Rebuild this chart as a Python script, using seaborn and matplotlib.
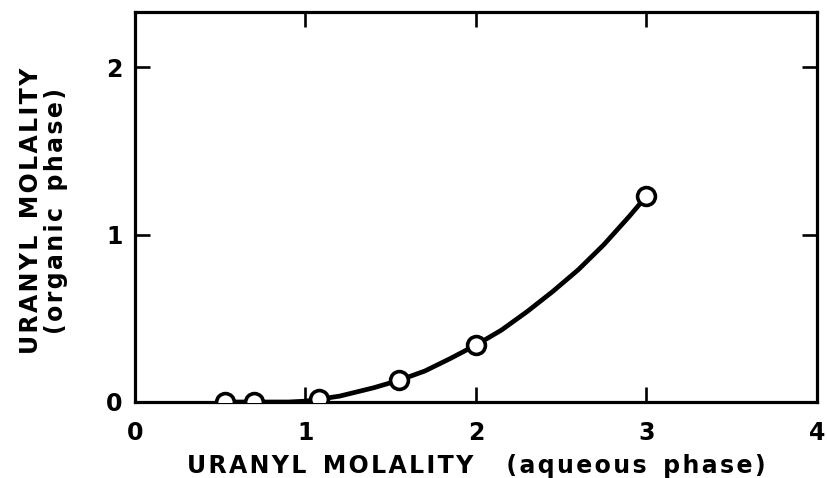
import matplotlib
matplotlib.use("Agg")
import matplotlib.pyplot as plt
import pandas as pd
import seaborn as sns

# measured points (aqueous vs organic uranyl molality)
aq_points = [0.53, 0.70, 1.08, 1.55, 2.00, 3.00]
org_points = [0.00, 0.00, 0.02, 0.13, 0.34, 1.23]

# smooth curve
aq_curve = [0.53, 0.70, 0.90, 1.00, 1.10, 1.20, 1.30, 1.40, 1.55, 1.70, 1.85, 2.00,
            2.15, 2.30, 2.45, 2.60, 2.75, 2.90, 3.00]
org_curve = [0.00, 0.00, 0.00, 0.005, 0.02, 0.035, 0.06, 0.085, 0.13, 0.185, 0.26, 0.34,
             0.43, 0.54, 0.66, 0.79, 0.94, 1.11, 1.23]

x_ticks = [0, 1, 2, 3, 4]
y_ticks = [0, 1, 2]


def spaced(text, gap="\u200a"):
    # old typewriter-like lettering: a hair space between letters
    return "  ".join(gap.join(word) for word in text.split(" "))


pts = pd.DataFrame({"aq": aq_points, "org": org_points})
curve = pd.DataFrame({"aq": aq_curve, "org": org_curve})

sns.set_theme(style="ticks")
plt.rcParams["font.family"] = ["DejaVu Sans"]
plt.rcParams["font.weight"] = "bold"
plt.rcParams["text.color"] = "black"
plt.rcParams["axes.labelcolor"] = "black"
plt.rcParams["xtick.color"] = "black"
plt.rcParams["ytick.color"] = "black"

fig = plt.figure(figsize=(8.27, 4.78), dpi=100)
ax = fig.add_axes([0.1632, 0.159, 0.8247, 0.816])

sns.lineplot(data=curve, x="aq", y="org", ax=ax, color="black", linewidth=3.4, zorder=2)
sns.scatterplot(data=pts, x="aq", y="org", ax=ax, s=165, facecolor="white",
                edgecolor="black", linewidth=2.6, zorder=3)

ax.set_xlim(0, 4)
ax.set_ylim(0, 2.33)
ax.set_xticks(x_ticks)
ax.set_yticks(y_ticks)
ax.set_xticklabels([str(t) for t in x_ticks], fontsize=17, fontweight="bold")
ax.set_yticklabels([str(t) for t in y_ticks], fontsize=17, fontweight="bold")
ax.tick_params(direction="in", length=11, width=1.9, top=True, right=True)
ax.tick_params(axis="x", pad=14)
ax.tick_params(axis="y", pad=9)

for s in ax.spines.values():
    s.set_linewidth(2.3)
    s.set_color("black")

ax.set_xlabel(spaced("URANYL MOLALITY  (aqueous phase)"), fontsize=17, fontweight="bold",
              labelpad=6)
ax.set_ylabel(spaced("URANYL MOLALITY") + "\n" + spaced("(organic phase)"), fontsize=17,
              fontweight="bold", linespacing=1.05)
ax.yaxis.set_label_coords(-0.098, 0.49)

fig.savefig("out.png", dpi=100, facecolor="white")
